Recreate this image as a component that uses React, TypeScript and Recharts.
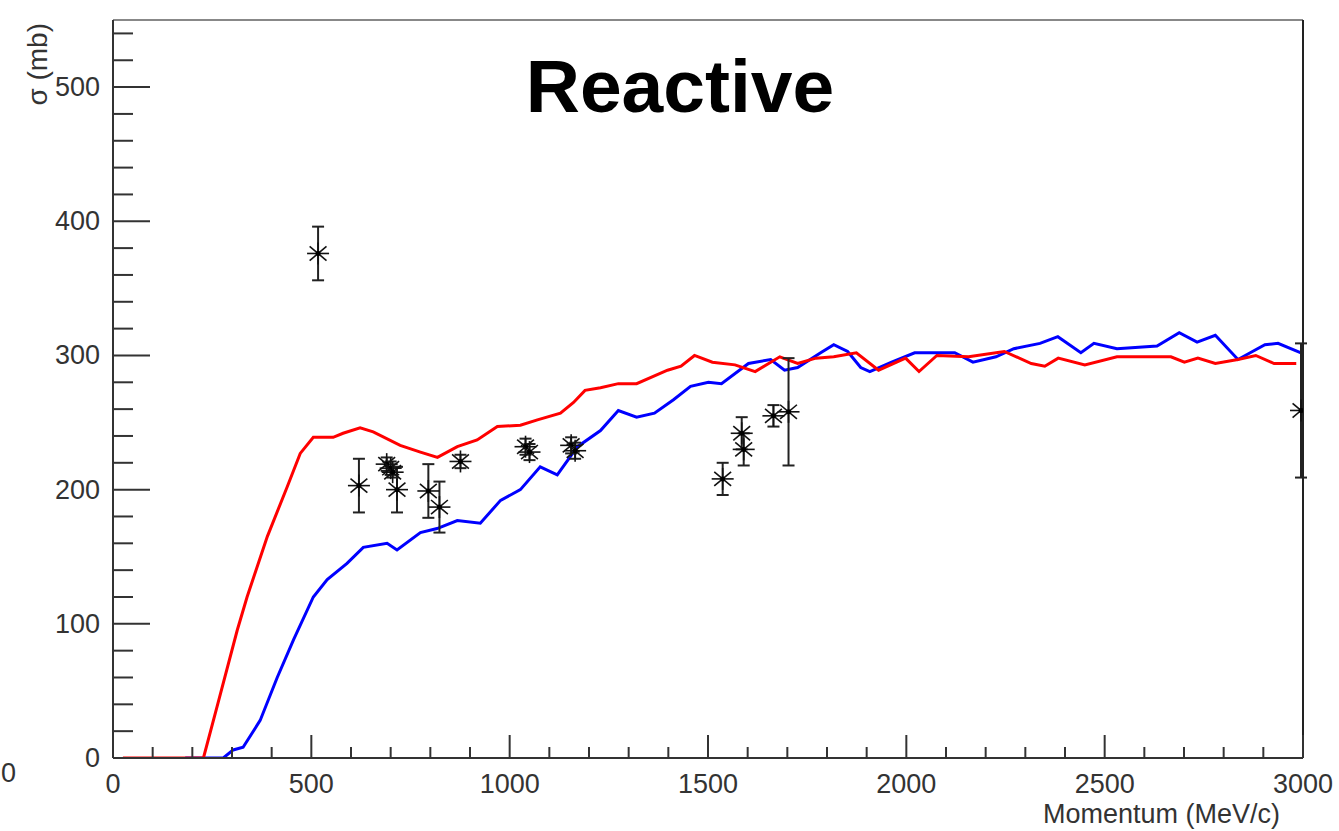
import {
  ComposedChart,
  Line,
  Scatter,
  ErrorBar,
  XAxis,
  YAxis,
  ReferenceLine,
} from 'recharts'

// Simulation curves (momentum in MeV/c, cross section in mb)
const redMomentum = [
  25, 220, 228, 262, 313, 338, 389, 439, 472, 505, 555, 580, 623, 656, 724, 775, 818, 868, 918, 969,
  1027, 1070, 1128, 1161, 1190, 1229, 1274, 1320, 1398, 1432, 1466, 1511, 1568, 1619, 1681, 1726,
  1772, 1817, 1874, 1930, 1998, 2032, 2077, 2157, 2247, 2315, 2349, 2383, 2450, 2531, 2667, 2701,
  2735, 2779, 2836, 2881, 2927, 2983,
]
const redSigma = [
  0, 0, 0, 38, 95, 120, 165, 202, 227, 239, 239, 242, 246, 243, 233, 228, 224, 232, 237, 247,
  248, 252, 257, 265, 274, 276, 279, 279, 289, 292, 300, 295, 293, 288, 299, 294,
  298, 299, 302, 289, 298, 288, 300, 299, 303, 294, 292, 298, 293, 299, 299, 295,
  298, 294, 297, 300, 294, 294,
]

const blueMomentum = [
  182, 278, 303, 328, 371, 414, 455, 505, 540, 590, 631, 691, 716, 775, 817, 868, 926, 977, 1027,
  1077, 1120, 1171, 1229, 1274, 1320, 1365, 1413, 1456, 1501, 1534, 1602, 1658, 1693, 1726, 1784,
  1817, 1852, 1885, 1908, 1963, 2021, 2122, 2168, 2226, 2271, 2337, 2382, 2440, 2473, 2531, 2632,
  2688, 2733, 2779, 2836, 2904, 2937, 2995,
]
const blueSigma = [
  0, 0, 6, 8, 28, 60, 88, 120, 133, 145, 157, 160, 155, 168, 171, 177, 175, 192, 200,
  217, 211, 232, 244, 259, 254, 257, 267, 277, 280, 279, 294, 297, 289, 291, 302,
  308, 303, 291, 288, 295, 302, 302, 295, 299, 305, 309, 314, 302, 309, 305, 307,
  317, 310, 315, 297, 308, 309, 302,
]

// Measured points with errors
const dataMomentum = [517, 620, 690, 700, 705, 716, 795, 823, 876, 1040, 1050, 1155, 1165, 1537, 1585, 1590, 1665, 1703, 2995]
const dataSigma = [376, 203, 219, 216, 213, 200, 199, 187, 221, 232, 228, 233, 229, 208, 242, 230, 255, 258, 259]
const dataError = [20, 20, 5, 5, 4, 17, 20, 19, 5, 6, 6, 6, 6, 12, 12, 12, 8, 40, 50]

const xTicks = Array.from({ length: 31 }, (_, i) => i * 100)
const yTicks = Array.from({ length: 28 }, (_, i) => i * 20)

const redSim = redMomentum.map((x, i) => ({ x, y: redSigma[i] }))
const blueSim = blueMomentum.map((x, i) => ({ x, y: blueSigma[i] }))
const points = dataMomentum.map((x, i) => ({ x, y: dataSigma[i], err: dataError[i] }))

const FONT = '"Liberation Sans", Arial, Helvetica, sans-serif'
const AXIS = '#333'

function YTick({ x, y, payload }: any) {
  const major = payload.value % 100 === 0
  return (
    <g>
      <line x1={x} y1={y} x2={x + (major ? 37 : 20)} y2={y} stroke={AXIS} strokeWidth={2} />
      {major && (
        <text x={x - 13} y={y} textAnchor="end" dominantBaseline="central" fontSize={27} fill="#333" fontFamily={FONT}>
          {payload.value}
        </text>
      )}
    </g>
  )
}

function XTick({ x, y, payload }: any) {
  const major = payload.value % 500 === 0
  return (
    <g>
      <line x1={x} y1={y} x2={x} y2={y - (major ? 23 : 11)} stroke={AXIS} strokeWidth={2} />
      {major && (
        <text x={x} y={y + 35} textAnchor="middle" fontSize={27} fill="#333" fontFamily={FONT}>
          {payload.value}
        </text>
      )}
    </g>
  )
}

function Star({ cx, cy }: any) {
  const r = 11
  const dx = r * Math.cos(Math.PI / 4.5)
  const dy = r * Math.sin(Math.PI / 4.5)
  return (
    <g stroke="#111" strokeWidth={1.6}>
      <line x1={cx - r} y1={cy} x2={cx + r} y2={cy} />
      <line x1={cx} y1={cy - r} x2={cx} y2={cy + r} />
      <line x1={cx - dx} y1={cy - dy} x2={cx + dx} y2={cy + dy} />
      <line x1={cx - dx} y1={cy + dy} x2={cx + dx} y2={cy - dy} />
      <circle cx={cx} cy={cy} r={2.5} fill="#000" stroke="none" />
    </g>
  )
}

export default function App() {
  return (
    <div style={{ position: 'absolute', left: 0, top: 0, width: 1339, height: 831, background: '#fff' }}>
      <ComposedChart width={1339} height={831} margin={{ top: 20, right: 36, bottom: 13, left: 0 }}>
        <XAxis
          type="number"
          dataKey="x"
          domain={[0, 3000]}
          ticks={xTicks}
          interval={0}
          height={60}
          tickSize={0}
          tickMargin={0}
          tickLine={false}
          axisLine={{ stroke: AXIS, strokeWidth: 2 }}
          tick={(p: any) => <XTick {...p} />}
          allowDataOverflow
        />
        <YAxis
          type="number"
          domain={[0, 550]}
          ticks={yTicks}
          interval={0}
          width={113}
          tickSize={0}
          tickMargin={0}
          tickLine={false}
          axisLine={{ stroke: AXIS, strokeWidth: 2 }}
          tick={(p: any) => <YTick {...p} />}
          allowDataOverflow
        />
        <ReferenceLine y={550} stroke="#888" strokeWidth={2} />
        <ReferenceLine x={3000} stroke="#222" strokeWidth={2} />
        <Line
          data={blueSim}
          dataKey="y"
          type="linear"
          stroke="#0000ff"
          strokeWidth={3}
          dot={false}
          isAnimationActive={false}
        />
        <Line
          data={redSim}
          dataKey="y"
          type="linear"
          stroke="#ff0000"
          strokeWidth={3}
          dot={false}
          isAnimationActive={false}
        />
        <Scatter data={points} dataKey="y" shape={(p: any) => <Star {...p} />} isAnimationActive={false}>
          <ErrorBar dataKey="err" direction="y" width={6} stroke="#222" strokeWidth={2} />
        </Scatter>
      </ComposedChart>
      <svg
        width={1339}
        height={831}
        style={{ position: 'absolute', left: 0, top: 0, pointerEvents: 'none' }}
        fontFamily={FONT}
      >
        <text x={680} y={112} textAnchor="middle" fontSize={75} fontWeight="bold" fill="#000">
          Reactive
        </text>
        <text x={47} y={23} textAnchor="end" fontSize={28} fill="#333" transform="rotate(-90 47 23)">
          σ (mb)
        </text>
        <text x={1280} y={823} textAnchor="end" fontSize={27} fill="#333">
          Momentum (MeV/c)
        </text>
        <text x={16} y={782} textAnchor="end" fontSize={27} fill="#333">
          0
        </text>
      </svg>
    </div>
  )
}
